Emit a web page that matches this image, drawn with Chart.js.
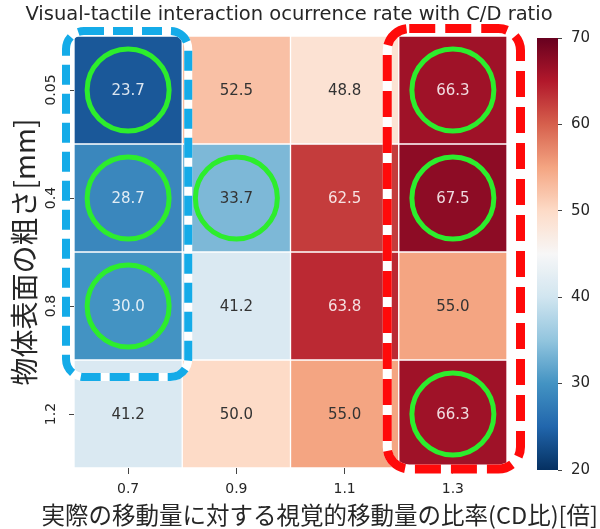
<!DOCTYPE html>
<html>
<head>
<meta charset="utf-8">
<script src="https://cdn.jsdelivr.net/npm/chart.js@4.4.1/dist/chart.umd.min.js"></script>
<style>
  html, body { margin: 0; padding: 0; background: #fff; }
  #wrap { position: relative; width: 600px; height: 529px; }
  #heat { position: absolute; left: 0; top: 0; }
  #bar { position: absolute; left: 520px; top: 0; }
</style>
</head>
<body>
<div id="wrap">
  <canvas id="heat" width="600" height="529"></canvas>
  <canvas id="bar" width="80" height="529"></canvas>
</div>
<script>
// CD ratio (columns) and surface roughness (rows)
const cdRatios = ["0.7", "0.9", "1.1", "1.3"];
const roughness = ["0.05", "0.4", "0.8", "1.2"];

// occurrence rate per roughness row
const rate005 = [23.7, 52.5, 48.8, 66.3];
const rate04 = [28.7, 33.7, 62.5, 67.5];
const rate08 = [30.0, 41.2, 63.8, 55.0];
const rate12 = [41.2, 50.0, 55.0, 66.3];
const rates = [rate005, rate04, rate08, rate12];

const colorMin = 20;
const colorMax = 70;

// circled cells as [row, col]
const circled = [[0, 0], [1, 0], [2, 0], [1, 1], [0, 3], [1, 3], [3, 3]];

const tickFont = { family: "DejaVu Sans", size: 14 };
const jpFont = "Noto Sans CJK JP";
const textDark = "#262626";

// RdBu_r colormap
const rdbuStops = ["#053061", "#2166ac", "#4393c3", "#92c5de", "#d1e5f0", "#f7f7f7",
                   "#fddbc7", "#f4a582", "#d6604d", "#b2182b", "#67001f"];

function hexRgb(h) {
    return [parseInt(h.slice(1, 3), 16), parseInt(h.slice(3, 5), 16), parseInt(h.slice(5, 7), 16)];
}

function rgbAt(t) {
    t = Math.max(0, Math.min(1, t));
    const pos = t * (rdbuStops.length - 1);
    const i = Math.min(Math.floor(pos), rdbuStops.length - 2);
    const f = pos - i;
    const a = hexRgb(rdbuStops[i]);
    const b = hexRgb(rdbuStops[i + 1]);
    return a.map((v, k) => Math.round(v + (b[k] - v) * f));
}

function rdbuR(v) {
    const c = rgbAt((v - colorMin) / (colorMax - colorMin));
    return `rgb(${c[0]}, ${c[1]}, ${c[2]})`;
}

// same rule seaborn uses to pick annotation colour
function textColor(v) {
    const c = rgbAt((v - colorMin) / (colorMax - colorMin)).map(x => {
        x /= 255;
        return x <= 0.03928 ? x / 12.92 : Math.pow((x + 0.055) / 1.055, 2.4);
    });
    const lum = 0.2126 * c[0] + 0.7152 * c[1] + 0.0722 * c[2];
    return lum > 0.408 ? "#333333" : "rgba(255, 255, 255, 0.85)";
}

function drawFrame(ctx, x, y, col, row0, row1, color, width, dash, m, radius) {
    const half = (x.getPixelForValue(1) - x.getPixelForValue(0)) / 2;
    const left = x.getPixelForValue(col) - half - m.l;
    const right = x.getPixelForValue(col) + half + m.r;
    const top = y.getPixelForValue(row0) - m.t;
    const bottom = y.getPixelForValue(row1) + m.b;
    ctx.save();
    ctx.lineWidth = width;
    ctx.beginPath();
    ctx.roundRect(left, top, right - left, bottom - top, radius);
    ctx.strokeStyle = "#ffffff";
    ctx.stroke();
    ctx.setLineDash(dash);
    ctx.strokeStyle = color;
    ctx.stroke();
    ctx.restore();
}

const markupPlugin = {
    id: "markup",
    afterDatasetsDraw(chart) {
        const { ctx, scales: { x, y } } = chart;

        // cell values
        ctx.save();
        ctx.font = '15px "DejaVu Sans"';
        ctx.textAlign = "center";
        ctx.textBaseline = "middle";
        chart.data.datasets.forEach((ds, r) => {
            chart.getDatasetMeta(r).data.forEach((bar, c) => {
                const v = rates[r][c];
                ctx.fillStyle = textColor(v);
                ctx.fillText(v.toFixed(1), bar.x, (bar.y + bar.base) / 2 + 1);
            });
        });
        ctx.restore();

        // dashed frames
        drawFrame(ctx, x, y, 0, 0, 3, "#14abe8", 8, [20, 9], { l: 8, r: 6, t: 5, b: 17 }, 18);
        drawFrame(ctx, x, y, 3, 0, 4, "#ff0a0a", 9, [26, 10], { l: 11.5, r: 13.5, t: 7.5, b: 1 }, 22);

        // green circles
        ctx.save();
        ctx.strokeStyle = "#2ded2d";
        ctx.lineWidth = 5;
        circled.forEach(([r, c]) => {
            ctx.beginPath();
            ctx.arc(x.getPixelForValue(c), y.getPixelForValue(r + 0.5), 41, 0, Math.PI * 2);
            ctx.stroke();
        });
        ctx.restore();
    }
};

// one floating bar per cell, one dataset per roughness row
const heatDatasets = rates.map((row, r) => ({
    label: roughness[r],
    data: row.map(() => [r, r + 1]),
    backgroundColor: row.map(v => rdbuR(v)),
    borderColor: "#ffffff",
    borderWidth: 1,
    borderSkipped: false,
    barPercentage: 1,
    categoryPercentage: 1,
    grouped: false
}));

new Chart(document.getElementById("heat"), {
    type: "bar",
    data: { labels: cdRatios, datasets: heatDatasets },
    options: {
        responsive: false,
        animation: false,
        layout: { padding: { left: -20, top: 0, right: 2, bottom: 0 } },
        plugins: {
            legend: { display: false },
            tooltip: { enabled: false },
            title: {
                display: true,
                text: "Visual-tactile interaction ocurrence rate with C/D ratio",
                font: { family: "DejaVu Sans", size: 19.5, weight: "normal" },
                color: textDark,
                padding: { top: 2.8, bottom: 9.8 }
            },
            subtitle: {
                display: true,
                position: "bottom",
                align: "end",
                text: "実際の移動量に対する視覚的移動量の比率(CD比)[倍]",
                font: { family: jpFont, size: 23.5 },
                color: textDark,
                padding: { top: 0, bottom: 0 }
            }
        },
        scales: {
            x: {
                type: "category",
                offset: true,
                grid: { display: true, drawOnChartArea: false, drawTicks: true, tickLength: 6, offset: false, color: "#444" },
                border: { display: false },
                ticks: { font: tickFont, color: textDark, padding: 7, maxRotation: 0 },
                afterFit: s => { s.height = 32.8; }
            },
            y: {
                type: "linear",
                min: 0,
                max: 4,
                reverse: true,
                afterBuildTicks: s => { s.ticks = roughness.map((_, i) => ({ value: i + 0.5 })); },
                grid: { display: true, drawOnChartArea: false, drawTicks: true, tickLength: 5, color: "#444" },
                border: { display: false },
                ticks: {
                    autoSkip: false,
                    callback: v => roughness[Math.floor(v)],
                    minRotation: 90,
                    maxRotation: 90,
                    crossAlign: "center",
                    padding: 2,
                    font: tickFont,
                    color: textDark
                },
                title: {
                    display: true,
                    text: "物体表面の粗さ[mm]",
                    font: { family: jpFont, size: 28 },
                    color: textDark,
                    padding: { top: 27.2, bottom: 0 }
                },
                afterFit: s => { s.width = 94; }
            },
            // empty axis that keeps room for the colorbar
            yRight: {
                type: "linear",
                position: "right",
                grid: { display: false },
                border: { display: false },
                ticks: { display: false },
                afterFit: s => { s.width = 91; }
            }
        }
    },
    plugins: [markupPlugin]
});

// colorbar
function barGradient(chart) {
    const area = chart.chartArea;
    if (!area) return null;
    const g = chart.ctx.createLinearGradient(0, area.bottom, 0, area.top);
    for (let i = 0; i <= 50; i++) {
        g.addColorStop(i / 50, rdbuR(colorMin + (colorMax - colorMin) * i / 50));
    }
    return g;
}

new Chart(document.getElementById("bar"), {
    type: "bar",
    data: {
        labels: [""],
        datasets: [{
            data: [[colorMin, colorMax]],
            backgroundColor: c => barGradient(c.chart),
            borderWidth: 0,
            barPercentage: 1,
            categoryPercentage: 1
        }]
    },
    options: {
        responsive: false,
        animation: false,
        layout: { padding: { left: 17, top: 38, right: 0, bottom: 59 } },
        plugins: { legend: { display: false }, tooltip: { enabled: false } },
        scales: {
            x: { display: false },
            y: {
                position: "right",
                min: colorMin,
                max: colorMax,
                ticks: { stepSize: 10, font: { family: "DejaVu Sans", size: 15 }, color: textDark, padding: 9 },
                grid: { drawOnChartArea: false, drawTicks: true, tickLength: 4, color: "#444" },
                border: { display: false },
                afterFit: s => { s.width = 42; }
            }
        }
    }
});
</script>
</body>
</html>
